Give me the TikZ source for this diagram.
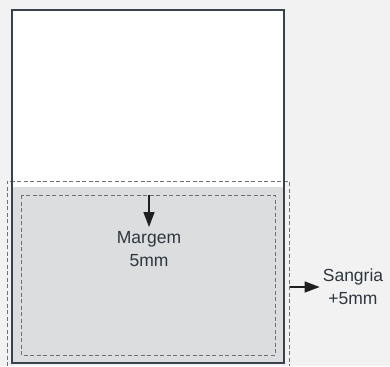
\documentclass[tikz,border=0pt]{standalone}
\usepackage{fontspec}
\setmainfont{Liberation Sans}
\usetikzlibrary{arrows.meta,positioning}
\definecolor{pagebg}{HTML}{F2F2F2}
\definecolor{framecol}{HTML}{37424D}
\definecolor{areafill}{HTML}{DCDDDF}
\definecolor{dashcol}{HTML}{707070}
\definecolor{textcol}{HTML}{2E3640}
\tikzset{
	guide/.style={draw=dashcol, line width=0.9pt, dash pattern=on 4pt off 2.5pt},
	label/.style={align=center, text=textcol, inner sep=0pt, font=\fontsize{17.5}{23}\selectfont},
	pointer/.style={-{Triangle[length=15pt,width=11pt]}, line width=1.5pt, draw=black!88, fill=black!88},
}

\begin{document}
\begin{tikzpicture}[x=1pt, y=-1pt]
	\useasboundingbox[fill=pagebg] (0,0) rectangle (390,366);
	\fill[white] (12,10) rectangle (284,187);
	\fill[areafill] (12,187) rectangle (284,363);
	\draw[guide] (7,366) -- (7,181) -- (289,181) -- (289,366);
	\draw[guide] (21,195) rectangle (275,355);
	\draw[framecol, line width=2.2pt] (12,10) rectangle (284,363);

	\coordinate (mtop) at (149,195);
	\node[label, anchor=north] (margem) at (149,231) {Margem\\5mm};
	\draw[pointer] (mtop) -- ([yshift=4pt]margem.north);

	\coordinate (sleft) at (290,287);
	\node[label] (sangria) at (353,287) {Sangria\\+5mm};
	\draw[pointer] (sleft) -- ([xshift=-3pt]sangria.west);
\end{tikzpicture}
\end{document}
